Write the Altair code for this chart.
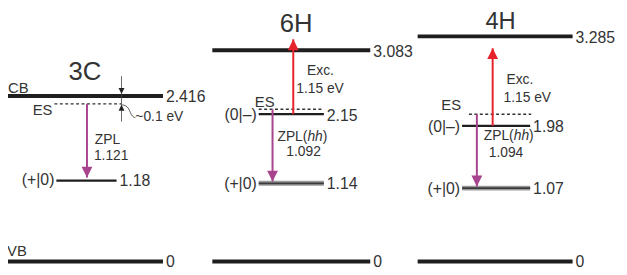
import altair as alt
import pandas as pd

# ---------------- data (energies in eV) ----------------
polytypes = ["3C", "6H", "4H"]
cb_energy = [2.416, 3.083, 3.285]
cb_text = ["2.416", "3.083", "3.285"]
vb_energy = [0.0, 0.0, 0.0]
vb_text = ["0", "0", "0"]
es_energy = [2.30, 2.22, 2.15]
zm_energy = [None, 2.15, 1.98]          # (0|–) level
zm_text = [None, "2.15", "1.98"]
pz_energy = [1.18, 1.14, 1.07]          # (+|0) level
pz_text = ["1.18", "1.14", "1.07"]
zpl_text = ["1.121", "1.092", "1.094"]
zpl_tip = [1.225, 1.167, 1.095]
exc_text = "1.15 eV"
exc_tip = [None, 3.242, 3.112]
gap_text = "~0.1 eV"

# ---------------- layout ----------------
W, H = 619, 267
K = 69.4                      # px per eV
VB_PX = 263                   # page y of the 0 eV line
Y_MAX = (VB_PX - 8) / K
Y_MIN = (VB_PX - 8 - H) / K
xs = alt.Scale(domain=[8, 8 + W], nice=False, zero=False)
ys = alt.Scale(domain=[Y_MIN, Y_MAX], nice=False, zero=False)

FONT = "Liberation Sans"
TXT = "#333333"
LINE = "#1e1e1e"
RED = "#e8222b"
MAG = "#a8448e"

panel_l = [7, 215, 423]
panel_r = [165, 375, 580]
lvl_l = [57, 262, 468]
lvl_r = [118, 328, 537]
es_l = [55, 262, 475]
es_r = [123, 328, 538]
zpl_x = [88, 276, 483]
exc_x = [None, 297, 499]


def px(dy):
    """pixel offset (down positive) -> energy offset"""
    return -dy / K


def X(f="x"):
    return alt.X(f + ":Q", scale=xs, axis=None)


def Y(f="y"):
    return alt.Y(f + ":Q", scale=ys, axis=None)


def hrules(rows, width, color, dash=None):
    kw = dict(strokeWidth=width, color=color, strokeCap="butt")
    if dash:
        kw["strokeDash"] = dash
    return alt.Chart(pd.DataFrame(rows)).mark_rule(**kw).encode(
        x=X("x0"), x2="x1:Q", y=Y("e"))


layers = []

# bands
bands = []
for i in range(3):
    bands.append(dict(x0=panel_l[i], x1=panel_r[i], e=cb_energy[i]))
    bands.append(dict(x0=panel_l[i], x1=panel_r[i], e=vb_energy[i]))
layers.append(hrules(bands, 4, LINE))

# defect levels
thin = [dict(x0=lvl_l[0], x1=lvl_r[0], e=pz_energy[0])]
for i in (1, 2):
    thin.append(dict(x0=lvl_l[i], x1=lvl_r[i], e=zm_energy[i]))
layers.append(hrules(thin, 2.2, LINE))
dbl = [dict(x0=lvl_l[i], x1=lvl_r[i], e=pz_energy[i]) for i in (1, 2)]
layers.append(hrules(dbl, 5, "#9a9a9a"))
layers.append(hrules(dbl, 1.6, "#3a3a3a"))

# ES dashed
es_rows = [dict(x0=es_l[i], x1=es_r[i], e=es_energy[i]) for i in range(3)]
layers.append(hrules(es_rows, 1.5, "#333333", dash=[3, 2.5]))

# arrow shafts
zpl_rows = [dict(x=zpl_x[i], e0=es_energy[i], e1=zpl_tip[i]) for i in range(3)]
exc_rows = [dict(x=exc_x[i], e0=zm_energy[i], e1=exc_tip[i]) for i in (1, 2)]
layers.append(alt.Chart(pd.DataFrame(zpl_rows)).mark_rule(strokeWidth=2, color=MAG).encode(
    x=X("x"), y=Y("e0"), y2="e1:Q"))
layers.append(alt.Chart(pd.DataFrame(exc_rows)).mark_rule(strokeWidth=2, color=RED).encode(
    x=X("x"), y=Y("e0"), y2="e1:Q"))

DOWN = "M-1,-1L1,-1L0,1Z"
UP = "M-1,1L1,1L0,-1Z"
layers.append(alt.Chart(pd.DataFrame(zpl_rows)).mark_point(
    shape=DOWN, filled=True, size=121, opacity=1, color=MAG, strokeWidth=0, yOffset=-5.5).encode(
    x=X("x"), y=Y("e1")))
layers.append(alt.Chart(pd.DataFrame(exc_rows)).mark_point(
    shape=UP, filled=True, size=121, opacity=1, color=RED, strokeWidth=0, yOffset=5.5).encode(
    x=X("x"), y=Y("e1")))

# 3C gap bracket
bx = es_r[0]
br = [dict(x=bx, e0=cb_energy[0] + px(-20), e1=es_energy[0] + px(18))]
layers.append(alt.Chart(pd.DataFrame(br)).mark_rule(strokeWidth=0.8, color="#444444").encode(
    x=X("x"), y=Y("e0"), y2="e1:Q"))
heads_d = [dict(x=bx, e=cb_energy[0] + px(-2))]
heads_u = [dict(x=bx, e=es_energy[0] + px(1))]
layers.append(alt.Chart(pd.DataFrame(heads_d)).mark_point(
    shape=DOWN, filled=True, size=36, opacity=1, color="#222222", strokeWidth=0, yOffset=-3).encode(
    x=X("x"), y=Y("e")))
layers.append(alt.Chart(pd.DataFrame(heads_u)).mark_point(
    shape=UP, filled=True, size=36, opacity=1, color="#222222", strokeWidth=0, yOffset=3).encode(
    x=X("x"), y=Y("e")))
curve_dx = [0.5, 4, 7, 9, 11, 14]
curve_dy = [1, 1.5, 4, 9, 13, 14]
curve = [dict(o=j, x=bx + curve_dx[j], e=es_energy[0] + px(curve_dy[j])) for j in range(len(curve_dx))]
layers.append(alt.Chart(pd.DataFrame(curve)).mark_line(
    strokeWidth=0.9, color="#444444", interpolate="basis").encode(
    x=X("x"), y=Y("e"), order="o:Q"))

# ---------------- texts ----------------
texts = []


def add(x, e, dy, text, align="left", size=15, italic=False):
    texts.append(dict(x=x, y=e + px(dy), text=text, align=align, size=size, italic=italic))


AW = {"Z": 0.611, "P": 0.667, "L": 0.556, "(": 0.333, "h": 0.556, ")": 0.333}


def tw(s, size):
    return sum(AW[c] for c in s) * size


# titles
add(86, cb_energy[0], -24, polytypes[0], "center", 26)
add(300, cb_energy[1], -26, polytypes[1], "center", 26)
add(507, cb_energy[2], -14.5, polytypes[2], "center", 24)
# band labels
add(8, cb_energy[0], -8, "CB", "left", 15)
add(7, vb_energy[0], -10, "VB", "left", 15)
for i in range(3):
    add(panel_r[i] + 3, cb_energy[i], 1.5, cb_text[i], "left", 16)
    add(panel_r[i] + 3, vb_energy[i], 1, vb_text[i], "left", 16)
    add(lvl_l[i] - 2, pz_energy[i], -1 if i == 0 else 0.5, "(+|0)", "right", 16)
    add(lvl_r[i] + 3, pz_energy[i], 0.5, pz_text[i], "left", 16)
for i in (1, 2):
    add(lvl_l[i] - 2, zm_energy[i], 1, "(0|\u2013)", "right", 16)
    add(lvl_r[i] + 3, zm_energy[i], 1.5, zm_text[i], "left", 16)
# ES labels
add(53, es_energy[0], 6.5, "ES", "right", 15)
add(258, es_energy[1], -7, "ES", "left", 15)
add(447, es_energy[2], -9, "ES", "left", 15)
# gap
add(bx + 14, es_energy[0], 13.5, gap_text, "left", 14)
# ZPL
add(96, pz_energy[0], -41, "ZPL", "left", 14)
add(95, pz_energy[0], -25, zpl_text[0], "left", 14)
for i, (xz, dz) in zip((1, 2), ((281, -47), (490, -52.5))):
    add(xz, pz_energy[i], dz, "ZPL(", "left", 14)
    add(xz + tw("ZPL(", 14), pz_energy[i], dz, "hh", "left", 14, True)
    add(xz + tw("ZPL(", 14) + tw("hh", 14), pz_energy[i], dz, ")", "left", 14)
add(290, pz_energy[1], -32, zpl_text[1], "left", 14)
add(495, pz_energy[2], -35.5, zpl_text[2], "left", 14)
# Exc
add(311, cb_energy[1], 21, "Exc.", "left", 14)
add(300, cb_energy[1], 39, exc_text, "left", 14)
add(513, cb_energy[2], 44, "Exc.", "left", 14)
add(510, cb_energy[2], 62, exc_text, "left", 14)

tdf = pd.DataFrame(texts)
for (al, it), g in tdf.groupby(["align", "italic"]):
    layers.append(alt.Chart(g).mark_text(
        align=al, baseline="middle", font=FONT, color=TXT,
        fontStyle="italic" if it else "normal").encode(
        x=X("x"), y=Y("y"), text=alt.Text("text:N"),
        size=alt.Size("size:Q", scale=None, legend=None)))

chart = alt.layer(*layers).properties(
    width=W, height=H, padding=0, background="white",
    autosize=alt.AutoSizeParams(type="none"),
).configure_view(stroke=None)
chart.save("out.html", embed_options={"renderer": "svg", "actions": False})
